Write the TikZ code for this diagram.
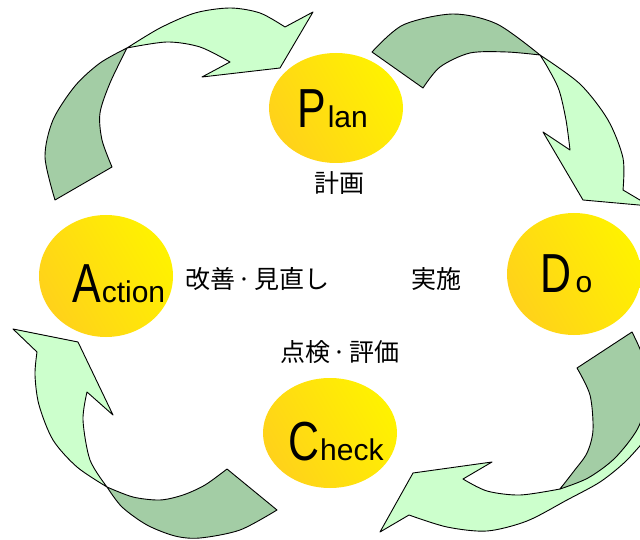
\documentclass[tikz,border=0pt]{standalone}
\usepackage{fontspec}
\usepackage{graphicx}
\setmainfont{Liberation Sans}
\newfontfamily\jpfont{Noto Sans CJK JP}
\usetikzlibrary{shapes.geometric}
\definecolor{lightgr}{HTML}{CCFFCC}
\definecolor{darkgr}{HTML}{A3CDA5}
\definecolor{yelA}{HTML}{FFD21A}
\definecolor{yelB}{HTML}{FFF200}
\newcommand\phbig[1]{{\fontsize{55}{55}\selectfont\scalebox{0.78}[1]{#1}}}
\newcommand\phsmall[1]{{\fontsize{30}{30}\selectfont #1}}
\newcommand\jdot{\kern2pt·\kern2pt}
\begin{document}
\begin{tikzpicture}[x=1pt,y=-1pt,line join=round,
  armlight/.style={fill=lightgr,draw=black,line width=0.9pt},
  armdark/.style={fill=darkgr,draw=black,line width=0.9pt},
  phase/.style={ellipse,draw=none,inner sep=0,bottom color=yelA,top color=yelB,shading angle=-60},
  lbl/.style={anchor=base west,inner sep=0},
  jlbl/.style={anchor=base,inner sep=0,font=\jpfont\fontsize{25}{25}\selectfont}]
\useasboundingbox (0,0) rectangle (640,540);
\clip (0,0) rectangle (640,540);

% arrow Action -> Plan
\path[armlight] plot[smooth] coordinates {(127,48) (160,28) (195,13) (230,8) (260,13) (285,27)} -- (313,12) -- (280,68) -- (202,77) -- plot[smooth] coordinates {(230,62) (200,47) (167,42) (127,48)} -- cycle;
\path[armdark] plot[smooth] coordinates {(55,200) (45,157) (53,120) (75,86) (100,63) (127,48)} -- plot[smooth] coordinates {(127,48) (110,83) (100,113) (102,140) (112,167)} -- cycle;

% arrow Plan -> Do
\path[armdark] plot[smooth] coordinates {(372,52) (403,25) (453,14) (497,24) (540,55)} -- plot[smooth] coordinates {(540,55) (507,52) (470,53) (440,67) (423,88)} -- cycle;
\path[armlight] plot[smooth] coordinates {(540,55) (580,84) (608,120) (623,158) (623,190)} -- (650,206) -- (583,200) -- (543,132) -- plot[smooth] coordinates {(570,150) (566,120) (559,90) (548,68) (540,55)} -- cycle;

% arrow Do -> Check
\path[armlight] plot[smooth] coordinates {(409,515) (447,527) (487,531) (527,521) (567,500) (600,482) (625,462) (645,440)} -- (655,400) -- (600,420) -- (585,462) -- plot[smooth] coordinates {(560,489) (520,495) (487,491) (463,479)} -- (492,462) -- (413,473) -- (380,532) -- cycle;
\path[armdark] (577,368) -- plot[smooth] coordinates {(632,332) (644,360) (647,395) (638,428) (615,458) (588,478) (560,489)} -- plot[smooth] coordinates {(560,489) (574,471) (587,453) (593,430) (590,395) (577,368)} -- cycle;

% arrow Check -> Action
\path[armdark] (227,469) -- plot[smooth] coordinates {(277,510) (240,530) (200,538) (175,536) (147,525) (122,507) (107,487)} -- plot[smooth] coordinates {(107,487) (133,497) (160,500) (183,495) (205,485) (227,469)} -- cycle;
\path[armlight] plot[smooth] coordinates {(107,487) (77,467) (53,440) (39,405) (35,375) (37,352)} -- (13,329) -- (78,342) -- (113,415) -- plot[smooth] coordinates {(87,392) (83,420) (90,460) (107,487)} -- cycle;

% phases
\node[phase,minimum width=134pt,minimum height=110pt] (plan) at (336,108) {};
\node[phase,minimum width=134pt,minimum height=122pt] (do) at (574,274) {};
\node[phase,minimum width=134pt,minimum height=122pt] (action) at (106,276) {};
\node[phase,minimum width=134pt,minimum height=110pt] (check) at (330,433) {};

\node[lbl] (plantxt) at (297,128) {\phbig{P}\kern2pt\phsmall{lan}};
\node[lbl] (dotxt) at (540.5,292) {\phbig{D}\kern4pt\phsmall{o}};
\node[lbl] (actiontxt) at (72,302) {\phbig{A}\kern1pt\phsmall{ction}};
\node[lbl] (checktxt) at (288,460) {\phbig{C}\kern1pt\phsmall{heck}};

\node[jlbl] (keikaku) at (339,193) {計画};
\node[jlbl] (jisshi) at (436,288) {実施};
\node[jlbl] (kaizen) at (257.5,288) {改善\jdot 見直し};
\node[jlbl] (tenken) at (340,361) {点検\jdot 評価};
\end{tikzpicture}
\end{document}
